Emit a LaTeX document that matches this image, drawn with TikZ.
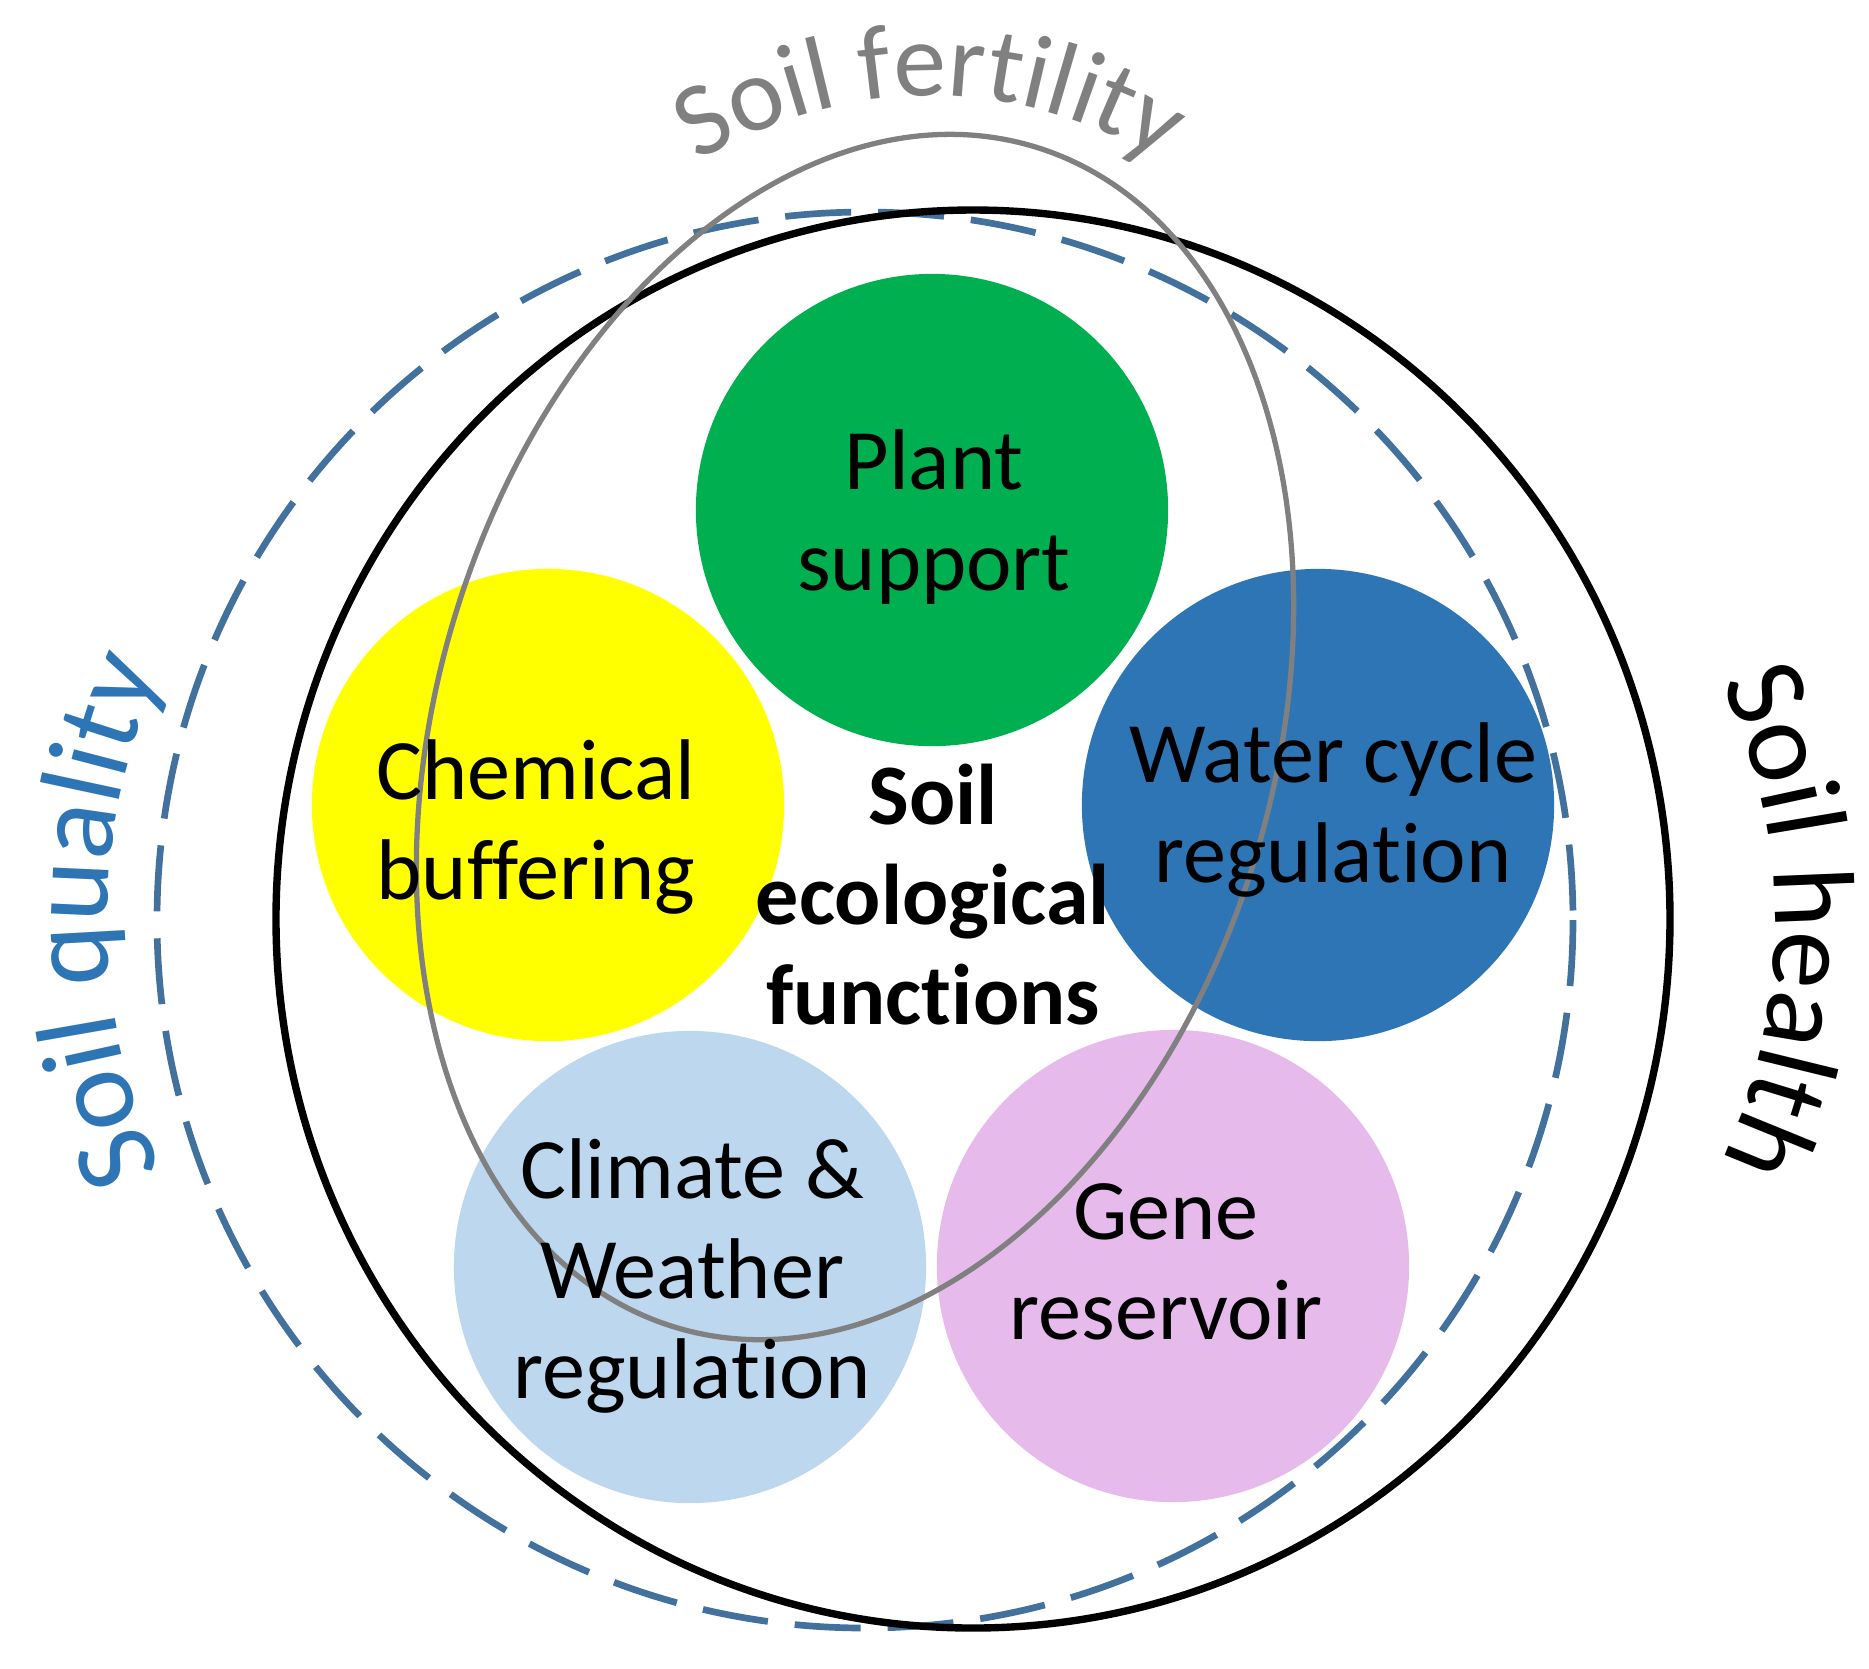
\documentclass[tikz,border=0pt]{standalone}
\usepackage{fontspec}
\setmainfont{Carlito}[Ligatures=NoCommon]
\usetikzlibrary{decorations.text}

\definecolor{plantgreen}{RGB}{0,176,80}
\definecolor{chemyellow}{RGB}{255,255,0}
\definecolor{waterblue}{RGB}{46,117,182}
\definecolor{climateblue}{RGB}{189,215,238}
\definecolor{genepurple}{RGB}{230,187,236}
\definecolor{dashblue}{RGB}{65,113,156}
\definecolor{qualblue}{RGB}{46,117,182}
\definecolor{fertgray}{RGB}{128,128,128}
\newcommand{\lblfont}{\fontsize{33}{40}\selectfont}
\newcommand{\fertfont}{\fontsize{30}{36}\selectfont}

\begin{document}
\begin{tikzpicture}[x=0.01cm,y=-0.01cm]
     \tikzstyle{func_style} = [circle,minimum size=4.72cm,inner sep=0pt]
     \tikzstyle{text_style} = [align=center,font=\fontsize{24.5}{28.45}\selectfont]
     \tikzstyle{ring_style} = [draw=black,line width=2.1pt]
     \tikzstyle{dash_style} = [draw=dashblue,line width=1.9pt,dash pattern=on 0.66cm off 0.27cm]
     \tikzstyle{fert_style} = [draw=fertgray,line width=1.5pt]
     \tikzstyle{label_style} = [decorate,decoration={text along path,text align=center}]
     \useasboundingbox (0,0) rectangle (1869,1668);
     \draw[dash_style] (865,920) circle[radius=708];
     \draw[ring_style] (973,919) ellipse[x radius=697,y radius=709];
     \node[func_style,fill=plantgreen] (plant) at (932,510) {};
     \node[func_style,fill=chemyellow] (chem) at (548,805) {};
     \node[func_style,fill=waterblue] (water) at (1318,805) {};
     \node[func_style,fill=climateblue] (climate) at (690,1267) {};
     \node[func_style,fill=genepurple] (gene) at (1173,1266) {};
     \draw[fert_style,rotate around={-17:(855,737)}] (855,737) ellipse[x radius=418,y radius=617];
     \node[text_style] (plant_text) at (934,517) {Plant\\support};
     \node[text_style] (chem_text) at (536,827) {Chemical\\buffering};
     \node[text_style] (water_text) at (1333,810) {Water cycle\\regulation};
     \node[text_style] (climate_text) at (692,1276) {Climate \&\\Weather\\regulation};
     \node[text_style] (gene_text) at (1166,1262) {Gene\\reservoir};
     \node[text_style,font=\bfseries\fontsize{24.5}{28.45}\selectfont] (soil_text) at (933,895) {Soil\\ecological\\functions};
     \path[label_style,decoration={text color=fertgray,text={|\fertfont|Soil fertility}}] (930,536) ++(-145:440) arc[start angle=-145,end angle=-35,radius=440];
     \path[label_style,decoration={text color=qualblue,text={|\lblfont|Soil quality}}] (707,920) ++(130:600) arc[start angle=130,end angle=230,radius=600];
     \path[label_style,decoration={text color=black,text={|\lblfont|Soil health}}] (1215,922) ++(-50:560) arc[start angle=-50,end angle=50,radius=560];
\end{tikzpicture}
\end{document}
